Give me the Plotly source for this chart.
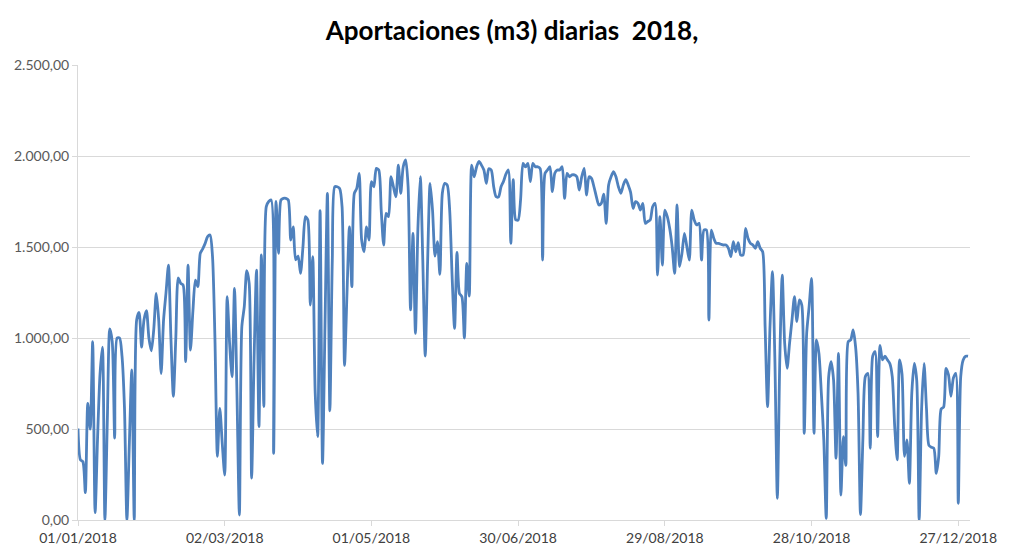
import pandas as pd
import plotly.graph_objects as go

title_text = "Aportaciones (m3) diarias\u00a0 2018,"

# Daily inflow values (m3), one list per month
jan = [503, 330, 320, 150, 640, 500, 980, 40, 450, 800, 950, 0, 550, 1050, 980, 450,
       1000, 1000, 900, 620, 0, 420, 825, 0, 1100, 1140, 950, 1100, 1150, 1000, 930]
feb = [1050, 1245, 1100, 805, 1100, 1250, 1400, 1000, 680, 1000, 1330, 1300, 1290, 870,
       1400, 934, 1150, 1318, 1282, 1465, 1490, 1520, 1557, 1566, 1450, 1000, 350, 613]
mar = [420, 247, 1227, 970, 787, 1273, 700, 27, 1062, 1172, 1370, 1300, 230, 880, 1373,
       513, 1456, 623, 1722, 1750, 1758, 366, 1750, 1465, 1758, 1767, 1767, 1758, 1538,
       1611, 1430]
apr = [1450, 1355, 1500, 1667, 1648, 1181, 1447, 700, 458, 1700, 311, 1062, 1795, 600,
       1428, 1831, 1831, 1822, 1721, 850, 1245, 1611, 1282, 1795, 1822, 1905, 1538, 1474,
       1611, 1538]
may = [1859, 1831, 1932, 1923, 1703, 1511, 1685, 1667, 1886, 1831, 1776, 1950, 1795, 1941,
       1978, 1831, 1154, 1575, 1025, 1600, 1886, 1430, 900, 1430, 1850, 1700, 1450, 1530,
       1350, 1795, 1850]
jun = [1840, 1703, 1337, 1053, 1470, 1245, 1227, 1000, 1410, 1230, 1950, 1886, 1940, 1970,
       1950, 1923, 1850, 1930, 1923, 1831, 1776, 1776, 1831, 1860, 1900, 1923, 1520, 1870,
       1650, 1648]
jul = [1760, 1960, 1940, 1960, 1859, 1960, 1941, 1941, 1930, 1428, 1905, 1923, 1941, 1804,
       1905, 1923, 1923, 1941, 1767, 1905, 1886, 1896, 1896, 1886, 1813, 1886, 1932, 1785,
       1886, 1877, 1831]
aug = [1776, 1731, 1740, 1790, 1630, 1841, 1886, 1914, 1886, 1831, 1795, 1840, 1870, 1841,
       1800, 1712, 1749, 1740, 1703, 1740, 1630, 1640, 1648, 1721, 1740, 1346, 1667, 1400,
       1703, 1667, 1600]
sep = [1500, 1355, 1731, 1392, 1465, 1575, 1502, 1428, 1703, 1648, 1621, 1630, 1428, 1593,
       1593, 1099, 1593, 1548, 1520, 1520, 1515, 1511, 1511, 1493, 1447, 1529, 1474, 1524,
       1456, 1456]
oct_ = [1602, 1548, 1520, 1511, 1493, 1529, 1493, 1474, 1062, 623, 1062, 1364, 879, 119,
        879, 1346, 971, 833, 971, 1100, 1227, 1090, 1209, 1181, 476, 1026, 1172, 1328, 476,
        989, 916]
nov = [696, 440, 9, 788, 870, 769, 339, 916, 137, 458, 300, 980, 989, 1044, 952, 700, 30,
       450, 788, 806, 394, 900, 925, 458, 960, 880, 900, 880, 860, 788]
dec = [513, 330, 879, 800, 350, 440, 201, 700, 860, 769, 0, 610, 860, 610, 410, 400, 394,
       256, 350, 610, 620, 833, 797, 680, 780, 806, 92, 788, 879, 900, 900]

values = jan + feb + mar + apr + may + jun + jul + aug + sep + oct_ + nov + dec
dates = pd.date_range("2018-01-01", periods=len(values), freq="D")

x_tick_dates = ["2018-01-01", "2018-03-02", "2018-05-01", "2018-06-30",
                "2018-08-29", "2018-10-28", "2018-12-27"]
x_tick_labels = ["01/01/2018", "02/03/2018", "01/05/2018", "30/06/2018",
                 "29/08/2018", "28/10/2018", "27/12/2018"]
y_ticks = [0, 500, 1000, 1500, 2000, 2500]

fig = go.Figure()
fig.add_trace(go.Scatter(
    x=dates, y=values, mode="lines",
    line=dict(color="#4F81BD", width=2.8, shape="spline", smoothing=0.7),
    cliponaxis=True,
    hovertemplate="%{x|%d/%m/%Y}: %{y:,.2f}<extra></extra>",
))

fig.update_layout(
    width=1024, height=559,
    margin=dict(l=78, r=54, t=65, b=39, autoexpand=False),
    paper_bgcolor="white", plot_bgcolor="white",
    separators=",.",
    showlegend=False,
    font=dict(family="Lato, 'Open Sans', sans-serif", color="#404040"),
    title=dict(text="<b>" + title_text + "</b>", x=0.5, xanchor="center",
               y=1 - 31 / 559, yanchor="middle", yref="container",
               font=dict(size=26, color="#000000", family="Lato, 'Open Sans', sans-serif")),
)

fig.update_xaxes(
    type="date", automargin=False,
    range=["2018-01-01", "2018-12-31 19:00"],
    tickvals=x_tick_dates, ticktext=x_tick_labels,
    showgrid=False, zeroline=False,
    showline=True, linecolor="#D9D9D9", linewidth=1,
    ticks="outside", ticklen=5, tickcolor="#D9D9D9",
    tickfont=dict(size=14, color="#404040"),
)
fig.update_yaxes(
    automargin=False,
    range=[0, 2500], tickvals=y_ticks, tickformat=",.2f",
    showgrid=True, gridcolor="#D9D9D9", gridwidth=1,
    zeroline=False,
    showline=True, linecolor="#D9D9D9", linewidth=1,
    ticks="outside", ticklen=5, tickcolor="#D9D9D9",
    tickfont=dict(size=14, color="#595959"),
)

fig.write_html(
    "out.html",
    config={"displayModeBar": False},
    post_script="document.body.style.margin='0';document.body.style.overflow='hidden';",
)
